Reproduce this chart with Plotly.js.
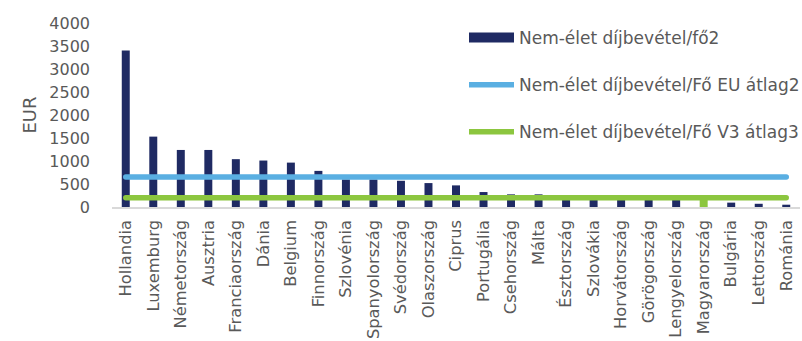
<!DOCTYPE html>
<html>
<head>
<meta charset="utf-8">
<script src="https://cdn.plot.ly/plotly-3.0.1.min.js"></script>
<style>
  html, body { margin: 0; padding: 0; background: #ffffff; }
  #chart { width: 802px; height: 341px; }
  .scatterlayer .js-line,
  .legend .traces:not(:first-child) .js-line { stroke-linecap: round; }
</style>
</head>
<body>
<div id="chart"></div>
<script>
// Non-life premium income per capita by country (EUR)
const countries = [
  'Hollandia', 'Luxemburg', 'Németország', 'Ausztria', 'Franciaország',
  'Dánia', 'Belgium', 'Finnország', 'Szlovénia', 'Spanyolország',
  'Svédország', 'Olaszország', 'Ciprus', 'Portugália', 'Csehország',
  'Málta', 'Észtország', 'Szlovákia', 'Horvátország', 'Görögország',
  'Lengyelország', 'Magyarország', 'Bulgária', 'Lettország', 'Románia'
];
const premiumPerCapita = [
  3400, 1530, 1240, 1240, 1040,
  1010, 965, 785, 600, 600,
  570, 520, 470, 325, 275,
  275, 225, 215, 210, 205,
  200, 190, 95, 70, 50
];
const euAverage = 650;   // EU average
const v3Average = 200;   // V3 average
const highlighted = 'Magyarország';
const yTicks = [0, 500, 1000, 1500, 2000, 2500, 3000, 3500, 4000];

const NAVY = '#1f2a63';
const BLUE = '#5aafe2';
const GREEN = '#8cc63f';
const TEXT = '#595959';
const FONT = '"DejaVu Sans", Verdana, sans-serif';

const barColors = countries.map(c => c === highlighted ? GREEN : NAVY);

const traces = [
  {
    type: 'bar',
    x: countries,
    y: premiumPerCapita,
    marker: { color: barColors },
    showlegend: false,
    hoverinfo: 'x+y'
  },
  // legend entry for the bar series (wide swatch)
  {
    type: 'scatter', mode: 'lines',
    x: [null], y: [null],
    name: 'Nem-élet díjbevétel/fő2',
    legendgroup: 'a',
    line: { color: NAVY, width: 11 }
  },
  {
    type: 'scatter', mode: 'lines',
    x: countries,
    y: countries.map(() => euAverage),
    name: 'Nem-élet díjbevétel/Fő EU átlag2',
    legendgroup: 'b',
    line: { color: BLUE, width: 5.5 }
  },
  {
    type: 'scatter', mode: 'lines',
    x: countries,
    y: countries.map(() => v3Average),
    name: 'Nem-élet díjbevétel/Fő V3 átlag3',
    legendgroup: 'c',
    line: { color: GREEN, width: 5.5 }
  }
];

const layout = {
  width: 802,
  height: 341,
  margin: { l: 112, r: 2, t: 23, b: 134, autoexpand: false },
  paper_bgcolor: '#ffffff',
  plot_bgcolor: '#ffffff',
  font: { family: FONT, color: TEXT, size: 16 },
  bargap: 0.71,
  xaxis: {
    type: 'category',
    range: [-0.5, countries.length - 0.5],
    tickangle: -90,
    tickfont: { family: FONT, size: 16.3, color: TEXT },
    ticklabelstandoff: 5,
    showgrid: false,
    showline: true,
    linecolor: '#d9d9d9',
    linewidth: 1.5,
    ticks: '',
    automargin: false,
    fixedrange: true
  },
  yaxis: {
    range: [0, 4000],
    tickvals: yTicks,
    ticktext: yTicks.map(String),
    tickfont: { family: FONT, size: 16, color: TEXT },
    ticklabelstandoff: 21,
    showgrid: false,
    zeroline: false,
    showline: false,
    ticks: '',
    automargin: false,
    title: { text: 'EUR', font: { family: FONT, size: 18, color: TEXT }, standoff: 7 },
    fixedrange: true
  },
  showlegend: true,
  legend: {
    x: (464 - 112) / 688, y: (207 - 20) / 184,
    xanchor: 'left', yanchor: 'top',
    bgcolor: 'rgba(0,0,0,0)',
    borderwidth: 0,
    itemwidth: 45,
    traceorder: 'grouped',
    tracegroupgap: 22,
    font: { family: FONT, size: 17, color: TEXT }
  }
};

Plotly.newPlot('chart', traces, layout, { displayModeBar: false, staticPlot: true });
</script>
</body>
</html>
